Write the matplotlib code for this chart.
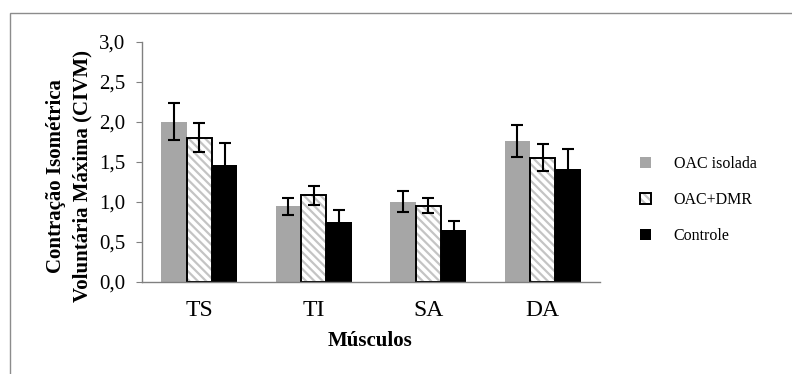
import matplotlib
matplotlib.use("Agg")
import matplotlib.pyplot as plt
from matplotlib.patches import Rectangle, Patch
from matplotlib.legend_handler import HandlerTuple
import numpy as np

plt.rcParams['font.family'] = ['Liberation Serif', 'DejaVu Serif']
plt.rcParams['hatch.linewidth'] = 1.6

categories = ['TS', 'TI', 'SA', 'DA']
series_names = ['OAC isolada', 'OAC+DMR', 'Controle']
oac_isolada = [2.00, 0.94, 1.00, 1.76]
oac_isolada_err = [0.23, 0.11, 0.13, 0.20]
oac_dmr = [1.80, 1.08, 0.95, 1.55]
oac_dmr_err = [0.18, 0.12, 0.09, 0.17]
controle = [1.46, 0.74, 0.65, 1.41]
controle_err = [0.27, 0.16, 0.11, 0.25]
yticks = [0.0, 0.5, 1.0, 1.5, 2.0, 2.5, 3.0]
ytick_labels = ['0,0', '0,5', '1,0', '1,5', '2,0', '2,5', '3,0']

GRAY = '#a6a6a6'
HATCH_GRAY = '#c4c4c4'

fig = plt.figure(figsize=(7.92, 3.74), dpi=100)
fig.patches.append(Rectangle((10/792, -0.1), 1.2, 1 - 13/374 + 0.1,
                             transform=fig.transFigure, fill=False,
                             edgecolor='#8c8c8c', linewidth=1.0))
ax = fig.add_axes([142/792, (374-281.5)/374, 458/792, (281.5-41.7)/374])

x = np.arange(len(categories))
w = 0.222
ekw = dict(ecolor='black', elinewidth=1.5, capsize=4.5, capthick=1.5, zorder=5)
ax.bar(x - w, oac_isolada, w, color=GRAY, yerr=oac_isolada_err, error_kw=ekw)
ax.bar(x, oac_dmr, w, facecolor='white', edgecolor=HATCH_GRAY,
       linewidth=0, hatch='\\\\\\\\')
ax.bar(x, oac_dmr, w, facecolor='none', edgecolor='black', linewidth=1.4,
       yerr=oac_dmr_err, error_kw=ekw)
ax.bar(x + w, controle, w, color='black', yerr=controle_err, error_kw=ekw)

ax.set_xlim(-0.5, len(categories) - 0.5)
ax.set_ylim(0, 3.0)
ax.set_yticks(yticks)
ax.set_yticklabels(ytick_labels, fontsize=15)
ax.set_xticks(x)
ax.set_xticklabels(categories, fontsize=17)
ax.tick_params(axis='x', length=0, pad=13)
ax.tick_params(axis='y', length=4.5, width=0.8, color='#808080', pad=7.5)
for s in ['top', 'right']:
    ax.spines[s].set_visible(False)
for s in ['left', 'bottom']:
    ax.spines[s].set_color('#808080')
    ax.spines[s].set_linewidth(1.0)

fig.text(69/792, 1 - 176/374, 'Contração Isométrica\nVoluntária Máxima (CIVM)',
         rotation=90, ha='center', va='center', fontsize=15,
         fontweight='bold', linespacing=1.4)
fig.text(370/792, 1 - 341/374, 'Músculos', ha='center', va='center',
         fontsize=15, fontweight='bold')

h1 = Patch(facecolor=GRAY, edgecolor='none')
h2a = Patch(facecolor='white', edgecolor=HATCH_GRAY, linewidth=0, hatch='\\\\\\\\')
h2b = Patch(facecolor='none', edgecolor='black', linewidth=1.4)
h3 = Patch(facecolor='black', edgecolor='none')
leg = fig.legend([h1, (h2a, h2b), h3], series_names,
                 handler_map={tuple: HandlerTuple(ndivide=1, pad=0)},
                 loc='center left', bbox_to_anchor=(640/792, 1 - 200/374),
                 frameon=False, fontsize=11.5, handlelength=0.7,
                 handleheight=0.7, handletextpad=1.4, labelspacing=1.25,
                 borderpad=0, borderaxespad=0)

fig.savefig('out.png', dpi=100)
